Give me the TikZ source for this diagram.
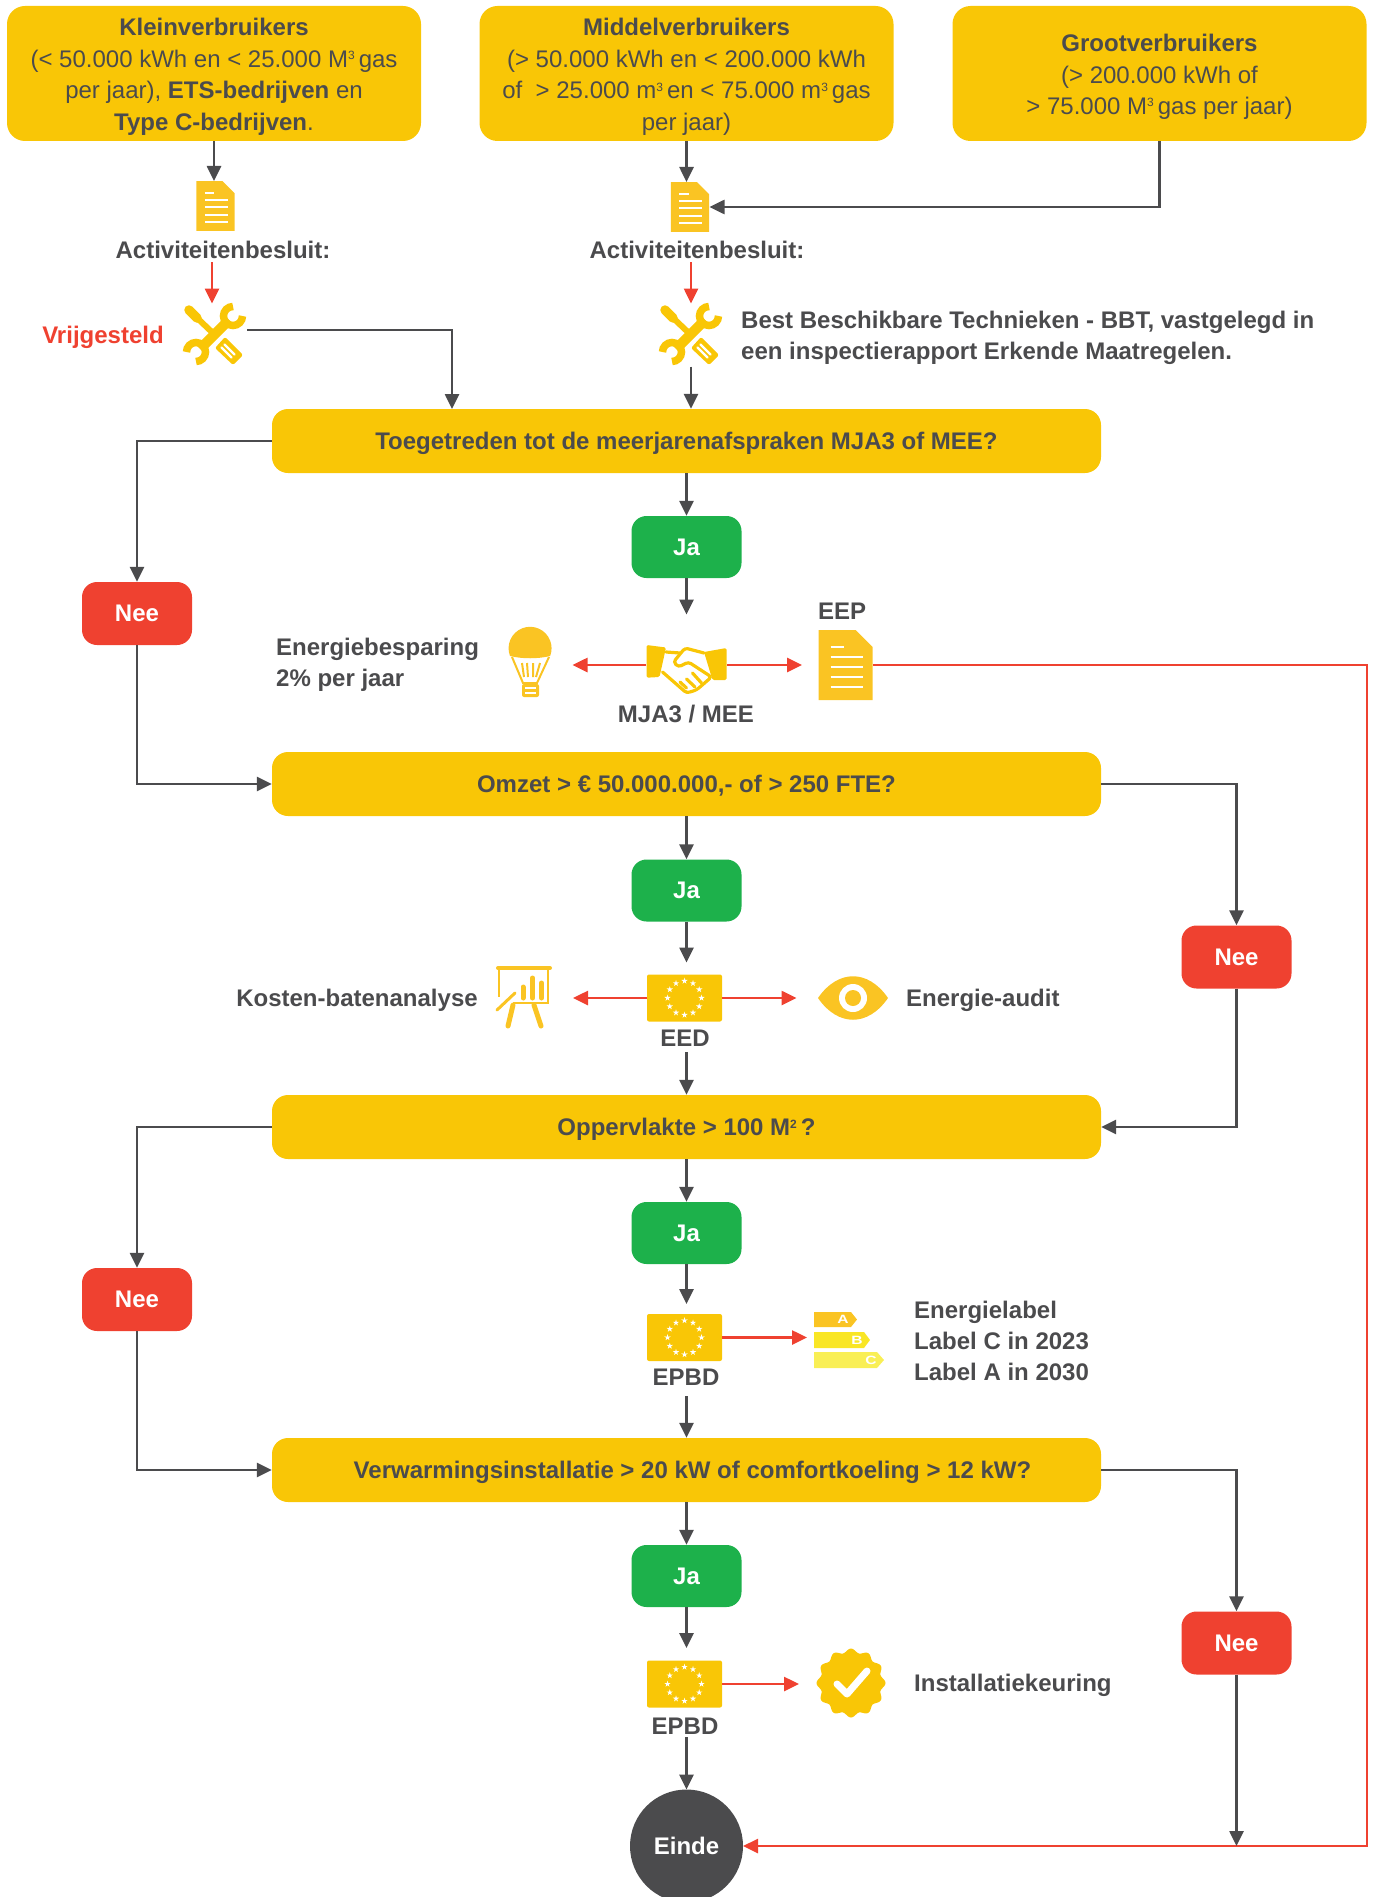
\documentclass[tikz,border=0pt]{standalone}
\usepackage{fontspec}
\setmainfont{Liberation Sans}
\usetikzlibrary{arrows.meta}
\definecolor{boxyellow}{HTML}{F9C606}
\definecolor{iconyellow}{HTML}{FAC423}
\definecolor{jagreen}{HTML}{1DB14B}
\definecolor{neered}{HTML}{EF4130}
\definecolor{textgrey}{HTML}{4B4B4D}
\definecolor{labelb}{HTML}{F9E625}
\definecolor{labelc}{HTML}{F9EF55}
\tikzset{
    topbox/.style={fill=boxyellow,rounded corners=18pt,minimum width=414pt,minimum height=135pt,inner sep=0pt,align=center,text=textgrey,font=\fontsize{24}{31.4}\selectfont},
    questionbox/.style={fill=boxyellow,rounded corners=16pt,minimum width=829pt,minimum height=64pt,inner sep=0pt,text height=17.5pt,text depth=0pt,text=textgrey,font=\fontsize{24}{31}\selectfont\bfseries},
    jabox/.style={fill=jagreen,rounded corners=15pt,minimum width=110pt,minimum height=62pt,inner sep=0pt,text=white,font=\fontsize{24}{31}\selectfont\bfseries},
    neebox/.style={fill=neered,rounded corners=15pt,minimum width=110pt,minimum height=63pt,inner sep=0pt,text=white,font=\fontsize{24}{31}\selectfont\bfseries},
    labeltext/.style={inner sep=3pt,text=textgrey,font=\fontsize{24}{31.4}\selectfont\bfseries},
    bartext/.style={inner sep=0pt,text=white,font=\fontsize{12}{12}\selectfont\bfseries},
    iconspot/.style={inner sep=0pt,outer sep=0pt},
    greyarrow/.style={textgrey,line width=2.6pt,-{Triangle[length=15pt,width=14pt]}},
    redarrow/.style={neered,line width=2.6pt,-{Triangle[length=15pt,width=14pt]}},
    docpic/.pic={
        \fill[iconyellow] (-27,-35) -- (10,-35) -- (27,-18) -- (27,35) -- (-27,35) -- cycle;
        \draw[white,line width=2pt] (-15,-18) -- (-2,-18);
        \foreach \ylevel in {-8,2,12,22}
            \draw[white,line width=2pt] (-15,\ylevel) -- (17,\ylevel);
    },
    flagpic/.pic={
        \fill[boxyellow,rounded corners=2pt] (-37.5,-23.5) rectangle (37.5,23.5);
        \foreach \a in {0,30,...,330}
            \fill[white,shift={(\a:17)}] (-90:3.3) -- (-54:1.25) -- (-18:3.3) -- (18:1.25) -- (54:3.3) -- (90:1.25) -- (126:3.3) -- (162:1.25) -- (198:3.3) -- (234:1.25) -- cycle;
    },
    toolspic/.pic={
        \draw[boxyellow,line width=6pt] (-20,-19) -- (0,0);
        \draw[boxyellow,line width=9.5pt,line cap=round] (-26,-25) -- (-18,-17);
        \fill[boxyellow,rounded corners=2pt] (28,20) -- (18,30) -- (0,13) -- (10,2) -- cycle;
        \draw[white,line width=2.4pt,line cap=round] (9.5,9.5) -- (19.5,19.5) (6.5,12.5) -- (16.5,22.5);
        \draw[boxyellow,line width=10pt] (-15,14) -- (14,-15);
        \draw[boxyellow,line width=7.5pt] (18,-19) ++(0:9.5) arc (0:270:9.5);
        \draw[boxyellow,line width=7.5pt] (-19,17) ++(180:9.5) arc (180:450:9.5);
    },
    handspic/.pic={
        \fill[boxyellow,rounded corners=1.5pt] (-40,-20) -- (-20.5,-17.5) -- (-27,12) -- (-40,12.7) -- cycle;
        \fill[boxyellow,rounded corners=1.5pt] (40,-17) -- (17.5,-13) -- (26,15) -- (40,15) -- cycle;
        \draw[boxyellow,line width=3.2pt,line cap=round] (-20.5,-13) -- (-6.5,-12);
        \draw[boxyellow,line width=3.2pt,rounded corners=3pt,line cap=round] (17.5,-12) -- (-1.5,-17) -- (-13,-3) -- (-8,2) -- (2,-3) -- (25,12) -- (10,25) -- (0,28) -- (-24,7);
        \draw[boxyellow,line width=3.2pt,line cap=round] (-6.5,17) -- (0,23) (0,14) -- (8.5,22) (6,8) -- (15,18);
    },
    bulbpic/.pic={
        \fill[iconyellow] (-20,-6) arc (159:381:21.5) .. controls (8,-3) and (-8,-3) .. (-20,-6) -- cycle;
        \draw[iconyellow,line width=2pt] (-18,-5) -- (-7,21) -- (7,21) -- (19,-5);
        \draw[iconyellow,line width=2pt] (-8,1) -- (-6,15) (-3,1) -- (-2,15) (3,1) -- (3,15) (10,1) -- (6,15);
        \fill[iconyellow,rounded corners=2pt] (-8,22) rectangle (9,35);
        \draw[white,line width=1.2pt] (-5,26) -- (6,26) (-5,31) -- (6,31);
    },
    chartpic/.pic={
        \draw[iconyellow,line width=4pt,line cap=round] (-26,-29) -- (26,-29);
        \draw[iconyellow,line width=2pt] (-25,-29) -- (-25,0) (24,-29) -- (24,5.7) -- (-11,5.7);
        \draw[iconyellow,line width=5pt,line cap=round] (-1,-10) -- (-1,1) (8.5,-19) -- (8.5,1) (17.5,-14) -- (17.5,1);
        \draw[iconyellow,line width=3pt,line cap=round] (-27,13) -- (-9,-4);
        \draw[iconyellow,line width=5pt,line cap=round] (-11,8) -- (-16,29) (10,8) -- (17,29);
    },
    eyepic/.pic={
        \fill[iconyellow] (-35,0) .. controls (-15,-29) and (15,-29) .. (35,0) .. controls (15,29) and (-15,29) .. (-35,0);
        \fill[white] (0,0) circle (14);
        \fill[iconyellow] (0,0) circle (8);
    },
    badgepic/.pic={
        \fill[boxyellow] plot[domain=0:360,samples=121,smooth] (\x:{32.5+2*cos(12*\x)}) -- cycle;
        \draw[white,line width=7pt,line cap=round,line join=round] (-14,1) -- (-4,11) -- (16,-12);
    }
}
\newcommand{\smallsup}[1]{\raisebox{7.5pt}{\fontsize{12}{12}\selectfont #1}}
\newcommand{\firstline}{\rule{0pt}{24pt}}
\begin{document}
\begin{tikzpicture}[x=1pt,y=-1pt]
    \useasboundingbox (0,0) rectangle (1373,1897);
    \clip (0,0) rectangle (1373,1897);
    \node[topbox] (klein) at (214,73.5) {\firstline\textbf{Kleinverbruikers}\\(< 50.000 kWh en < 25.000 M\smallsup{3}\,gas\\per jaar), \textbf{ETS-bedrijven} en\\\textbf{Type C-bedrijven}.};
    \node[topbox] (middel) at (686.5,73.5) {\firstline\textbf{Middelverbruikers}\\(> 50.000 kWh en < 200.000 kWh\\of\ \ > 25.000 m\smallsup{3}\,en < 75.000 m\smallsup{3}\,gas\\per jaar)};
    \node[topbox] (groot) at (1159.5,73.5) {\firstline\textbf{Grootverbruikers}\\(> 200.000 kWh of\\> 75.000 M\smallsup{3}\,gas per jaar)};
    \node[iconspot,minimum width=39pt,minimum height=50pt] (doc1) at (215.5,206) {};
    \node[iconspot,minimum width=39pt,minimum height=50pt] (doc2) at (690,207) {};
    \pic[scale=.71] at (doc1.center) {docpic};
    \pic[scale=.71] at (doc2.center) {docpic};
    \node[labeltext] (besluit1) at (223,250) {Activiteitenbesluit:};
    \node[labeltext] (besluit2) at (697,250) {Activiteitenbesluit:};
    \node[iconspot,minimum width=64pt,minimum height=63pt] (tools1) at (215,335) {};
    \node[iconspot,minimum width=64pt,minimum height=63pt] (tools2) at (691,335) {};
    \pic at (tools1.center) {toolspic};
    \pic at (tools2.center) {toolspic};
    \node[labeltext,text=neered] (vrij) at (103,337.5) {Vrijgesteld};
    \node[labeltext,anchor=west,align=left,inner sep=0pt] (bbt) at (741,338) {Best Beschikbare Technieken - BBT, vastgelegd in\\een inspectierapport Erkende Maatregelen.};

    \node[questionbox] (q1) at (686.5,441) {Toegetreden tot de meerjarenafspraken MJA3 of MEE?};
    \node[jabox] (ja1) at (686.5,547) {Ja};
    \node[neebox] (nee1) at (137,613.5) {Nee};
    \node[iconspot,minimum width=81pt,minimum height=53pt] (hands) at (686.5,665) {};
    \pic at (hands.center) {handspic};
    \node[labeltext] (mja) at (686,714) {MJA3 / MEE};
    \node[iconspot,minimum width=45pt,minimum height=69pt] (bulb) at (530,662) {};
    \pic at (bulb.center) {bulbpic};
    \node[labeltext,anchor=west,align=left,inner sep=0pt] (besparing) at (276,665) {Energiebesparing\\2\% per jaar};
    \node[labeltext] (eeptext) at (842,611) {EEP};
    \node[iconspot,minimum width=55pt,minimum height=71pt] (eep) at (845.5,665) {};
    \pic at (eep.center) {docpic};

    \node[questionbox] (q2) at (686.5,784) {Omzet > € 50.000.000,- of > 250 FTE?};
    \node[jabox] (ja2) at (686.5,890.5) {Ja};
    \node[neebox] (nee2) at (1236.5,957) {Nee};
    \node[iconspot,minimum width=75pt,minimum height=47pt] (flag1) at (684.5,998) {};
    \pic at (flag1.center) {flagpic};
    \node[labeltext] (eed) at (685,1038) {EED};
    \node[iconspot,minimum width=58pt,minimum height=66pt] (chart) at (524,997) {};
    \pic at (chart.center) {chartpic};
    \node[labeltext] (kosten) at (357,1000.5) {Kosten-batenanalyse};
    \node[iconspot,minimum width=71pt,minimum height=44pt] (eye) at (853,998) {};
    \pic at (eye.center) {eyepic};
    \node[labeltext,anchor=west,inner sep=0pt] (audit) at (906,1000.5) {Energie-audit};

    \node[questionbox] (q3) at (686.5,1127) {Oppervlakte > 100 M\smallsup{2}\,?};
    \node[jabox] (ja3) at (686.5,1233) {Ja};
    \node[neebox] (nee3) at (137,1299.5) {Nee};
    \node[iconspot,minimum width=75pt,minimum height=47pt] (flag2) at (684.5,1337.5) {};
    \pic at (flag2.center) {flagpic};
    \node[labeltext] (epbd1) at (686,1377) {EPBD};
    \node[iconspot,minimum width=70pt,minimum height=57pt] (labels) at (849,1340) {};
    \fill[iconyellow] (814,1312) -- (851,1312) -- (857,1319.5) -- (851,1327) -- (814,1327) -- cycle;
    \fill[labelb] (814,1332) -- (864,1332) -- (870,1340) -- (864,1348) -- (814,1348) -- cycle;
    \fill[labelc] (814,1352) -- (877,1352) -- (884,1360) -- (877,1368) -- (814,1368) -- cycle;
    \node[bartext] (bara) at (843,1319.5) {\scalebox{1.3}[1]{A}};
    \node[bartext] (barb) at (857,1340) {\scalebox{1.3}[1]{B}};
    \node[bartext] (barc) at (871,1360) {\scalebox{1.3}[1]{C}};
    \node[labeltext,anchor=west,align=left,inner sep=0pt] (energielabel) at (914,1341) {Energielabel\\Label C in 2023\\Label A in 2030};

    \node[questionbox] (q4) at (686.5,1470) {\hspace*{12pt}Verwarmingsinstallatie > 20 kW of comfortkoeling > 12 kW?};
    \node[jabox] (ja4) at (686.5,1576) {Ja};
    \node[neebox] (nee4) at (1236.5,1643) {Nee};
    \node[iconspot,minimum width=75pt,minimum height=46pt] (flag3) at (684.5,1684) {};
    \pic at (flag3.center) {flagpic};
    \node[labeltext] (epbd2) at (685,1726) {EPBD};
    \node[iconspot,minimum width=70pt,minimum height=70pt] (badge) at (851,1683) {};
    \pic at (badge.center) {badgepic};
    \node[labeltext,anchor=west,inner sep=0pt] (keuring) at (914,1685.5) {Installatiekeuring};
    \node[circle,fill=textgrey,minimum size=113pt,inner sep=0pt,outer sep=0pt,text=white,font=\fontsize{24}{31}\selectfont\bfseries] (einde) at (686.5,1846) {Einde};

    \coordinate (q1in) at (452,409);
    \coordinate (rightturn) at (1367,665);

    \draw[greyarrow] (klein.south) -- (klein.south |- doc1.north);
    \draw[greyarrow] (middel.south) -- (middel.south |- doc2.north);
    \draw[greyarrow] (groot.south) |- (doc2.east);
    \draw[redarrow] ([xshift=-3pt]tools1.north |- besluit1.south) -- ([xshift=-3pt]tools1.north);
    \draw[redarrow] (tools2.north |- besluit2.south) -- (tools2.north);
    \draw[greyarrow] ([yshift=5pt]tools1.east) -| (q1in);
    \draw[greyarrow] (tools2.south) -- (tools2.south |- q1.north);

    \draw[greyarrow] (q1.west) -| (nee1.north);
    \draw[greyarrow] (nee1.south) |- (q2.west);
    \draw[greyarrow] (q1.south) -- (ja1.north);
    \draw[greyarrow,shorten >=24pt] (ja1.south) -- (hands.north);
    \draw[redarrow,shorten >=20pt] (hands.west) -- (hands.west -| bulb.east);
    \draw[redarrow,shorten >=16pt] (hands.east) -- (eep.west);
    \draw[redarrow] (eep.east) -- (rightturn) |- (einde.east);

    \draw[greyarrow] (q2.east) -| (nee2.north);
    \draw[greyarrow] (nee2.south) |- (q3.east);
    \draw[greyarrow] (q2.south) -- (ja2.north);
    \draw[greyarrow,shorten >=12pt] (ja2.south) -- (flag1.north -| ja2.south);
    \draw[redarrow,shorten >=20pt] (flag1.west) -- (flag1.west -| chart.east);
    \draw[redarrow,shorten >=21pt] (flag1.east) -- (eye.west);
    \draw[greyarrow,shorten <=3pt] (eed.south -| q3.north) -- (q3.north);

    \draw[greyarrow] (q3.west) -| (nee3.north);
    \draw[greyarrow] (nee3.south) |- (q4.west);
    \draw[greyarrow] (q3.south) -- (ja3.north);
    \draw[greyarrow,shorten >=10pt] (ja3.south) -- (flag2.north -| ja3.south);
    \draw[redarrow,shorten >=7pt] (flag2.east) -- (flag2.east -| labels.west);
    \draw[greyarrow,shorten <=8pt] (epbd1.south -| q4.north) -- (q4.north);

    \draw[greyarrow] (q4.east) -| (nee4.north);
    \draw[greyarrow] (nee4.south) -- (nee4.south |- einde.east);
    \draw[greyarrow] (q4.south) -- (ja4.north);
    \draw[greyarrow,shorten >=13pt] (ja4.south) -- (flag3.north -| ja4.south);
    \draw[redarrow,shorten >=17pt] (flag3.east) -- (flag3.east -| badge.west);
    \draw[greyarrow] (epbd2.south -| einde.north) -- (einde.north);
\end{tikzpicture}
\end{document}
